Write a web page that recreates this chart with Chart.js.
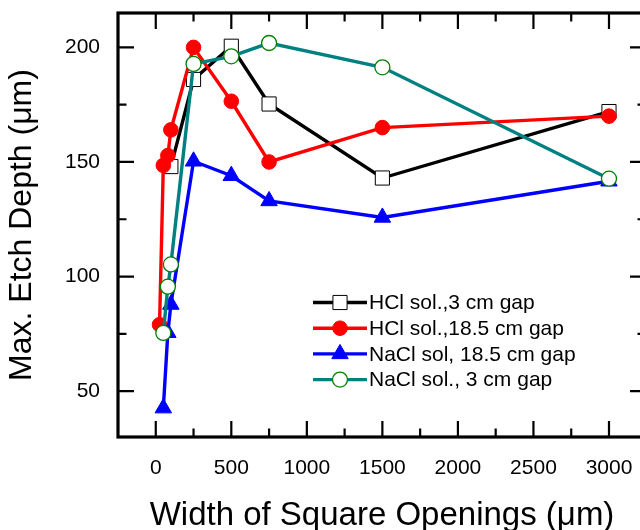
<!DOCTYPE html>
<html>
<head>
<meta charset="utf-8">
<script src="https://cdn.jsdelivr.net/npm/chart.js@4/dist/chart.umd.min.js"></script>
<style>
  html, body { margin: 0; padding: 0; background: #fff; overflow: hidden; }
  #wrap { width: 640px; height: 530px; overflow: hidden; position: relative; }
  #wrap canvas { display: block; }
</style>
</head>
<body>
<div id="wrap"><canvas id="c" width="650" height="530"></canvas></div>
<script>
// Maximum etch depth (µm) versus width of square openings (µm)
const seriesNames = [
  'HCl sol.,3 cm gap',
  'HCl sol.,18.5 cm gap',
  'NaCl sol, 18.5 cm gap',
  'NaCl sol., 3 cm gap'
];
const hcl3X    = [100, 250, 500, 750, 1500, 3000];
const hcl3Y    = [148, 186, 200.5, 175.3, 143, 172];
const hcl185X  = [25, 50, 80, 100, 250, 500, 750, 1500, 3000];
const hcl185Y  = [79, 148.5, 152.8, 164, 200, 176.5, 150, 165, 170];
const nacl185X = [50, 80, 100, 250, 500, 750, 1500, 3000];
const nacl185Y = [42.6, 75.5, 87.8, 150.3, 144, 133, 125.8, 141.6];
const nacl3X   = [50, 80, 100, 250, 500, 750, 1500, 3000];
const nacl3Y   = [75.4, 95.6, 105.3, 192.8, 196.1, 201.9, 191.3, 142.7];

const xMajorTicks = [0, 500, 1000, 1500, 2000, 2500, 3000];
const xMinorTicks = [250, 750, 1250, 1750, 2250, 2750];
const yMajorTicks = [50, 100, 150, 200];
const yMinorTicks = [75, 125, 175];

const toPoints = (xs, ys) => xs.map((x, i) => ({ x: x, y: ys[i] }));

Chart.defaults.font.family = "'Liberation Sans', Arial, sans-serif";
Chart.defaults.color = '#000';

// Frame around the plot with inward ticks on all four sides
const framePlugin = {
  id: 'frame',
  afterDatasetsDraw(chart) {
    const { ctx, chartArea: a, scales: { x, y } } = chart;
    const majorLen = 16, minorLen = 8.5;
    ctx.save();
    ctx.strokeStyle = '#000';
    ctx.lineWidth = 2.2;
    ctx.beginPath();
    const vTick = (v, len) => {
      const px = x.getPixelForValue(v);
      ctx.moveTo(px, a.bottom); ctx.lineTo(px, a.bottom - len);
      ctx.moveTo(px, a.top); ctx.lineTo(px, a.top + len);
    };
    const hTick = (v, len) => {
      const py = y.getPixelForValue(v);
      ctx.moveTo(a.left, py); ctx.lineTo(a.left + len, py);
      ctx.moveTo(a.right, py); ctx.lineTo(a.right - len, py);
    };
    xMajorTicks.forEach(v => vTick(v, majorLen));
    xMinorTicks.forEach(v => vTick(v, minorLen));
    yMajorTicks.forEach(v => hTick(v, majorLen));
    yMinorTicks.forEach(v => hTick(v, minorLen));
    ctx.stroke();
    ctx.lineWidth = 3.2;
    ctx.strokeRect(a.left, a.top, a.right - a.left, a.bottom - a.top);
    ctx.restore();
  }
};

// Legend with line sample and marker, placed inside the plot
const legendPlugin = {
  id: 'boxLegend',
  afterDraw(chart) {
    const ctx = chart.ctx;
    const x0 = 313, x1 = 367, textX = 369, y0 = 302.5, dy = 25.7;
    chart.data.datasets.forEach((ds, i) => {
      const yy = y0 + i * dy;
      ctx.save();
      ctx.strokeStyle = ds.borderColor;
      ctx.lineWidth = ds.borderWidth;
      ctx.beginPath();
      ctx.moveTo(x0, yy); ctx.lineTo(x1, yy);
      ctx.stroke();
      ctx.fillStyle = ds.pointBackgroundColor;
      ctx.strokeStyle = ds.pointBorderColor;
      ctx.lineWidth = ds.pointBorderWidth;
      Chart.helpers.drawPoint(ctx, {
        pointStyle: ds.pointStyle, radius: ds.pointRadius,
        rotation: 0, borderWidth: ds.pointBorderWidth
      }, (x0 + x1) / 2, yy);
      ctx.fillStyle = '#000';
      ctx.font = "21px 'Liberation Sans', Arial, sans-serif";
      ctx.textAlign = 'left';
      ctx.textBaseline = 'middle';
      ctx.fillText(ds.label, textX, yy + 1);
      ctx.restore();
    });
  }
};

const datasets = [
  {
    label: seriesNames[0], data: toPoints(hcl3X, hcl3Y),
    borderColor: '#000000', borderWidth: 3.4,
    pointStyle: 'rect', pointRadius: 10,
    pointBackgroundColor: '#ffffff', pointBorderColor: '#000000', pointBorderWidth: 1,
    order: 3
  },
  {
    label: seriesNames[1], data: toPoints(hcl185X, hcl185Y),
    borderColor: '#ff0000', borderWidth: 3.4,
    pointStyle: 'circle', pointRadius: 7.3,
    pointBackgroundColor: '#ff0000', pointBorderColor: '#ff0000', pointBorderWidth: 1,
    order: 2
  },
  {
    label: seriesNames[2], data: toPoints(nacl185X, nacl185Y),
    borderColor: '#0000ff', borderWidth: 3.4,
    pointStyle: 'triangle', pointRadius: 9.5,
    pointBackgroundColor: '#0000ff', pointBorderColor: '#0000ff', pointBorderWidth: 1,
    order: 1
  },
  {
    label: seriesNames[3], data: toPoints(nacl3X, nacl3Y),
    borderColor: '#008080', borderWidth: 3.4,
    pointStyle: 'circle', pointRadius: 7.5,
    pointBackgroundColor: '#ffffff', pointBorderColor: '#008000', pointBorderWidth: 1.3,
    order: 0
  }
];

// Fixed axis boxes so the plot area sits where the frame belongs
const noPad = s => { s.paddingTop = 0; s.paddingBottom = 0; s.paddingLeft = 0; s.paddingRight = 0; };

new Chart(document.getElementById('c'), {
  type: 'line',
  data: { datasets: datasets },
  options: {
    responsive: false,
    animation: false,
    events: [],
    layout: { autoPadding: false, padding: { top: 13, right: 4, left: 0, bottom: 0 } },
    plugins: { legend: { display: false }, tooltip: { enabled: false } },
    elements: { line: { tension: 0 } },
    scales: {
      x: {
        type: 'linear', min: -250, max: 3245,
        afterBuildTicks: s => { s.ticks = xMajorTicks.map(v => ({ value: v })); },
        afterFit: s => { s.height = 93; noPad(s); },
        grid: { display: false, drawTicks: false },
        border: { display: false },
        ticks: { font: { size: 21 }, color: '#000', padding: 19, maxRotation: 0, autoSkip: false,
                 callback: v => String(v) },
        title: { display: true, text: 'Width of Square Openings (μm)', color: '#000',
                 font: { size: 33, lineHeight: 0.85 }, padding: { top: 0, bottom: 0 } }
      },
      y: {
        type: 'linear', min: 30, max: 215,
        afterBuildTicks: s => { s.ticks = yMajorTicks.map(v => ({ value: v })); },
        afterFit: s => { s.width = 118; noPad(s); },
        grid: { display: false, drawTicks: false },
        border: { display: false },
        ticks: { font: { size: 21 }, color: '#000', padding: 18, autoSkip: false,
                 callback: v => String(v) },
        title: { display: true, text: 'Max. Etch Depth (μm)', color: '#000',
                 font: { size: 32 }, padding: { top: 3, bottom: 0 } }
      }
    }
  },
  plugins: [framePlugin, legendPlugin]
});
</script>
</body>
</html>
